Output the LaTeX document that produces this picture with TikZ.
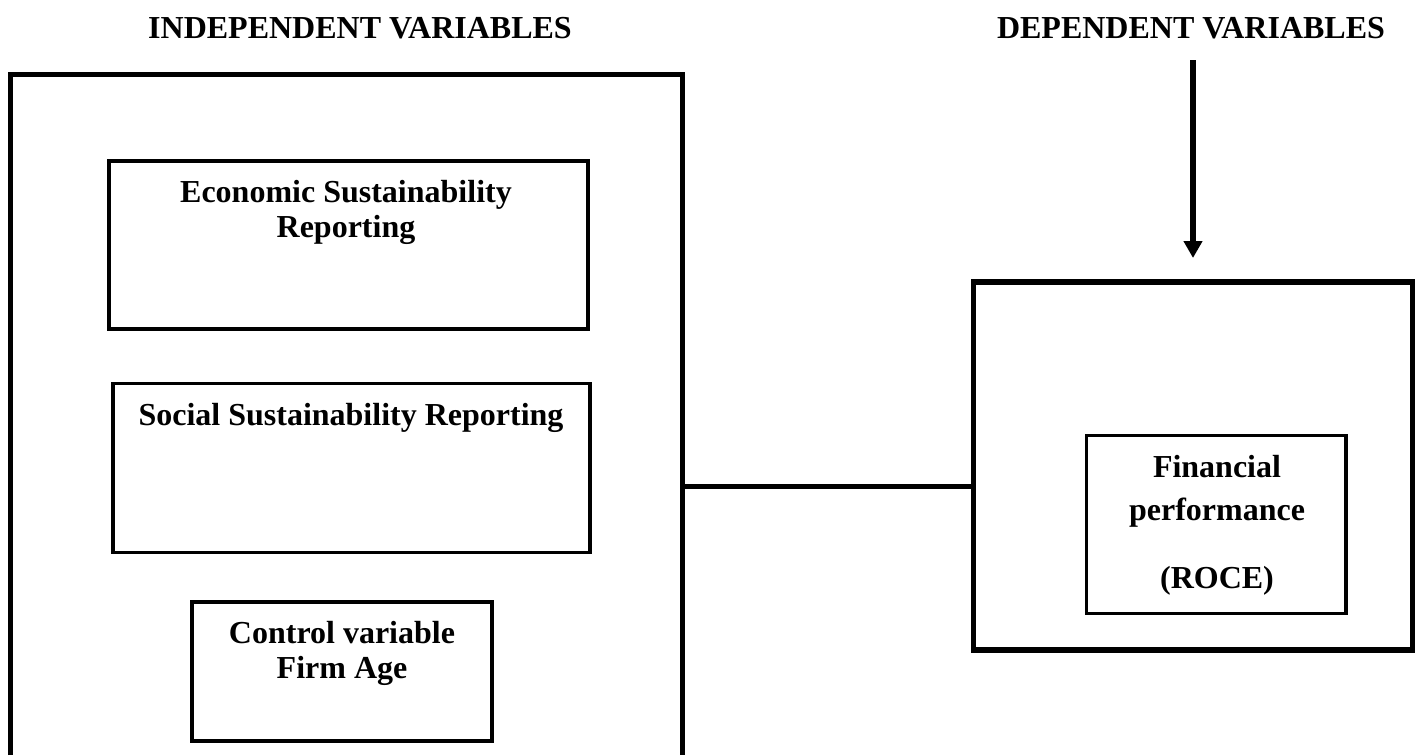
\documentclass[tikz,border=0pt]{standalone}
\usepackage{fontspec}
\setmainfont{Liberation Serif}
\usetikzlibrary{arrows.meta}
\begin{document}
\begin{tikzpicture}[x=1pt,y=-1pt,
  outerline/.style={line width=5.5pt},
  innerbox/.style={draw,line width=3.5pt,rectangle,inner sep=0pt,outer sep=0pt},
  outerbox/.style={draw,line width=5.5pt,rectangle,inner sep=0pt,outer sep=0pt},
  txt/.style={anchor=base,inner sep=0pt,font=\fontsize{32}{36}\selectfont\bfseries},
  conn/.style={line width=5.5pt},
  arr/.style={line width=6pt,-{Triangle[length=17pt,width=18pt]}}]
\useasboundingbox (0,0) rectangle (1416,755);
% headers
\node[txt] (hind) at (360,38) {INDEPENDENT VARIABLES};
\node[txt] (hdep) at (1191,38) {DEPENDENT VARIABLES};
% big independent frame (open at bottom)
\coordinate (bl) at (10.5,755);
\coordinate (tl) at (10.5,74.5);
\coordinate (tr) at (682.5,74.5);
\coordinate (br) at (682.5,755);
\draw[outerline,line join=miter] (bl) -- (tl) -- (tr) -- (br);
% inner boxes
\node[innerbox,minimum width=479pt,minimum height=168pt] (econ) at (348.5,245) {};
\node[txt] (econt1) at (346,202) {Economic Sustainability};
\node[txt] (econt2) at (346,237) {Reporting};
\node[innerbox,minimum width=477pt,minimum height=169pt] (soc) at (351.5,468) {};
\node[txt] (soct) at (351,425) {Social Sustainability Reporting};
\node[innerbox,minimum width=300pt,minimum height=139pt] (ctrl) at (342,671.5) {};
\node[txt] (ctrlt1) at (342,643) {Control variable};
\node[txt] (ctrlt2) at (342,678) {Firm Age};
% dependent box
\node[outerbox,minimum width=439pt,minimum height=368pt] (dep) at (1193,466) {};
\node[innerbox,minimum width=259.5pt,minimum height=178pt] (fin) at (1216.25,524.5) {};
\node[txt] (fint1) at (1217,477) {Financial};
\node[txt] (fint2) at (1217,520) {performance};
\node[txt] (fint3) at (1217,588) {(ROCE)};
% connector
\coordinate (cstart) at (682.5,486.5);
\draw[conn] (cstart) -- (cstart -| dep.west);
% arrow
\coordinate (atop) at (1193,60);
\coordinate (atip) at (1193,258);
\draw[arr] (atop) -- (atip);
\end{tikzpicture}
\end{document}
